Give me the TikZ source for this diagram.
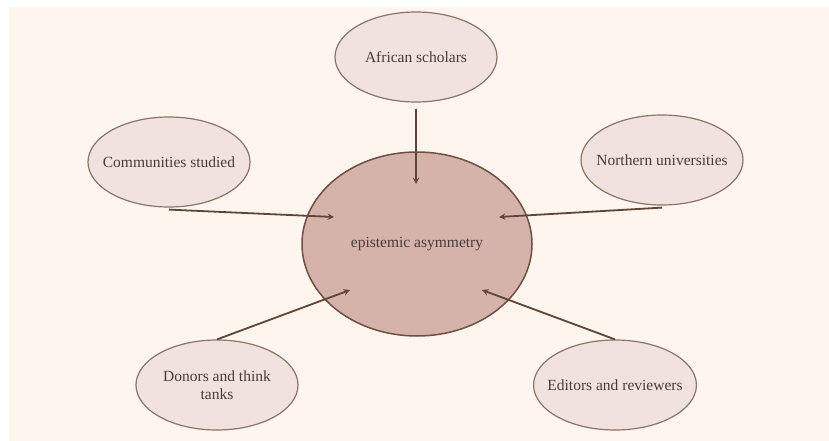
\documentclass[tikz,border=0pt]{standalone}
\usepackage{fontspec}
\setmainfont{Liberation Serif}
\usetikzlibrary{shapes.geometric}
\definecolor{bgcream}{HTML}{FDF5EE}
\definecolor{satfill}{HTML}{F1E2DF}
\definecolor{satline}{HTML}{8C7466}
\definecolor{hubfill}{HTML}{D5B3AA}
\definecolor{hubline}{HTML}{6E4F42}
\definecolor{arrowbrown}{HTML}{5E4536}
\definecolor{textbrown}{HTML}{4A3B3B}
\tikzset{
  actor/.style={ellipse, draw=satline, fill=satfill, line width=1.2pt,
    minimum width=162pt, minimum height=90pt, align=center,
    inner xsep=-10pt, inner ysep=1pt},
  hub/.style={ellipse, draw=hubline, fill=hubfill, line width=1.5pt,
    minimum width=230pt, minimum height=184pt},
  flow/.style={->, draw=arrowbrown, line width=1.8pt}
}
\begin{document}
\begin{tikzpicture}[x=1pt, y=-1pt, >=stealth, line join=round,
    font=\fontsize{15.5}{17.5}\selectfont, text=textbrown]
  \useasboundingbox (0,0) rectangle (829,441);
  \fill[bgcream] (9,7) rectangle (829,441);

  \node[hub] (asym) at (417,244) {epistemic asymmetry};

  \node[actor] (african) at (416,57) {African scholars};
  \node[actor] (communities) at (169,162) {Communities studied};
  \node[actor] (northern) at (662,160) {Northern universities};
  \node[actor] (donors) at (217,385) {Donors and think\\tanks};
  \node[actor] (editors) at (615,385) {Editors and reviewers};

  % arrow ends inside the hub
  \coordinate (inTop) at (416,184);
  \coordinate (inLeft) at (334,217);
  \coordinate (inRight) at (499,217);
  \coordinate (inLowLeft) at (350,290);
  \coordinate (inLowRight) at (482,290);

  \draw[flow] (african.south) ++(0,6) -- (inTop);
  \draw[flow] (communities.south) ++(0,2) -- (inLeft);
  \draw[flow] (northern.south) ++(0,2) -- (inRight);
  \draw[flow] (donors.north) -- (inLowLeft);
  \draw[flow] (editors.north) -- (inLowRight);
\end{tikzpicture}
\end{document}
